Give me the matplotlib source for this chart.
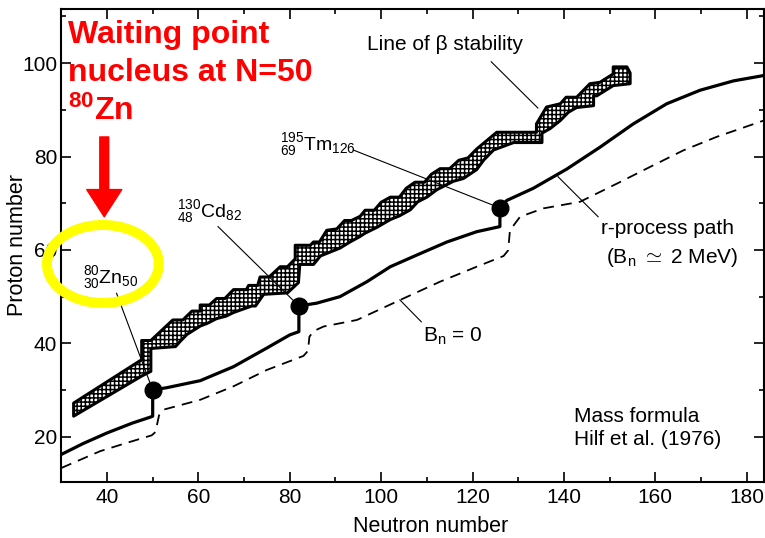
import matplotlib
matplotlib.use('Agg')
import matplotlib.pyplot as plt
from matplotlib import font_manager
from matplotlib.patches import Polygon, Ellipse
from matplotlib.ticker import MultipleLocator

# fonts: a narrow face for the tick numbers if one is installed
installed = {f.name for f in font_manager.fontManager.ttflist}
narrow = 'Liberation Sans Narrow' if 'Liberation Sans Narrow' in installed else 'Liberation Sans'
tick_size = 16.5 if narrow == 'Liberation Sans Narrow' else 15

plt.rcParams['font.family'] = ['Liberation Sans', 'DejaVu Sans']
plt.rcParams['mathtext.fontset'] = 'custom'
plt.rcParams['mathtext.rm'] = 'Liberation Sans'
plt.rcParams['mathtext.it'] = 'Liberation Sans:italic'
plt.rcParams['mathtext.bf'] = 'Liberation Sans:bold'
plt.rcParams['hatch.linewidth'] = 1.1

# line of beta stability, upper and lower edge of the band (N, Z)
band_top_n = [32.7, 47.6, 47.6, 49.6, 54.4, 56.6, 58.6, 60.4, 60.4, 62.4, 64.0, 65.8,
              67.7, 70.5, 71.0, 73.0, 73.5, 75.5, 77.9, 79.5, 81.2, 81.2, 84.5, 85.2,
              86.5, 88.1, 90.3, 92.0, 93.5, 95.4, 96.5, 98.5, 100.0, 102.0, 104.0, 105.5,
              107.4, 109.5, 111.0, 112.9, 115.0, 117.0, 119.0, 120.9, 123.1, 125.3, 134.0, 134.0,
              136.2, 139.2, 140.5, 142.8, 145.7, 147.9, 150.8, 150.8, 153.8, 154.5, 154.5]
band_top_z = [27.2, 36.5, 40.6, 40.6, 45.0, 45.0, 46.9, 46.9, 48.2, 48.2, 49.6, 49.6,
              51.5, 51.5, 52.4, 52.4, 54.2, 54.2, 56.4, 56.4, 58.1, 61.0, 61.0, 61.7,
              61.7, 64.2, 64.5, 66.3, 66.3, 67.2, 68.5, 68.5, 70.2, 71.3, 71.3, 73.2,
              74.5, 74.5, 76.2, 77.4, 77.4, 79.2, 79.7, 81.6, 83.4, 85.2, 85.2, 87.0,
              90.6, 91.3, 92.7, 92.7, 95.6, 95.9, 97.7, 99.2, 99.2, 97.9, 95.9]
band_low_n = [32.7, 47.6, 49.6, 49.6, 55.0, 56.0, 57.5, 60.4, 62.0, 64.0, 66.0, 67.7,
              71.7, 72.5, 74.3, 79.5, 81.9, 82.2, 85.2, 86.7, 91.0, 93.0, 95.4, 96.5,
              99.0, 102.0, 104.0, 106.4, 108.0, 110.0, 112.2, 115.8, 118.0, 120.9, 122.5, 124.6,
              129.0, 135.2, 135.2, 137.0, 139.2, 141.0, 142.8, 146.5, 146.5, 147.2, 150.8, 154.5]
band_low_z = [24.4, 33.0, 34.0, 38.9, 39.3, 40.4, 41.9, 43.7, 44.3, 45.3, 45.8, 46.6,
              48.0, 48.0, 50.5, 50.8, 53.0, 56.9, 56.9, 58.7, 60.4, 61.6, 62.9, 63.6,
              64.8, 66.5, 67.3, 68.6, 70.3, 71.3, 72.9, 74.7, 75.3, 77.2, 79.3, 81.4,
              83.0, 83.0, 85.0, 86.0, 87.7, 89.5, 90.5, 90.9, 93.0, 93.0, 95.2, 95.6]

# waiting-point nuclei at the closed neutron shells
nuc_sym = ['Zn', 'Cd', 'Tm']
nuc_n = [50, 82, 126]
nuc_z = [30, 48, 69]

# r-process path for B_n ~ 2 MeV (jumps up at the closed shells)
path_n = [30, 34.7, 40, 45.5, 49.5, 50, 50,
          53.1, 60.4, 67.7, 75, 80, 82, 82,
          85.9, 91, 96.9, 102, 107.8, 114.4, 120.9, 126, 126,
          127.5, 133.3, 140.6, 147.9, 155.2, 162.5, 169.8, 177.1, 184]
path_z = [16.2, 18.5, 20.8, 22.9, 24.2, 24.4, 30,
          30.5, 32.0, 35.0, 39.0, 41.8, 42.5, 48,
          48.6, 50.0, 53.2, 56.4, 58.9, 61.7, 63.9, 65.0, 69,
          70.6, 73.2, 77.3, 82.0, 87.0, 91.3, 94.2, 96.2, 97.4]

# neutron drip line B_n = 0
drip_n = [30, 38.5, 44.4, 49.8, 50.6, 51.0, 51.4, 52.4, 60.4, 67.7, 75, 83,
          84.0, 84.3, 85.2, 87.4, 94.7, 104.2, 112.9, 120.9, 126.8, 127.8, 128.2, 130.4,
          135.5, 143.5, 151.6, 158.9, 166.1, 173.4, 184]
drip_z = [13.3, 16.9, 18.7, 20.3, 21.0, 22.8, 24.6, 25.8, 27.9, 30.8, 34.3, 37.3,
          38.4, 41.4, 42.6, 43.6, 45.0, 49.3, 53.2, 56.4, 58.7, 59.9, 64.2, 67.1,
          68.9, 70.3, 74.2, 77.8, 81.3, 84.2, 87.8]

fig = plt.figure(figsize=(7.65, 5.38), dpi=100)
ax = fig.add_axes([61.3 / 765, 56 / 538, 702.7 / 765, 473 / 538])
ax.set_xlim(30, 183.8)
ax.set_ylim(10.3, 111.6)

band = list(zip(band_top_n, band_top_z)) + list(zip(band_low_n, band_low_z))[::-1]
ax.add_patch(Polygon(band, closed=True, facecolor='white', edgecolor='black',
                     hatch='++++', lw=2.2, joinstyle='round', zorder=3))

ax.plot(path_n, path_z, color='black', lw=2.3, solid_joinstyle='round', zorder=4)
ax.plot(drip_n, drip_z, color='black', lw=1.3, dashes=(6, 4), zorder=4)

# leader lines from the labels
leaders = [((42.1, 50.7), (nuc_n[0], nuc_z[0])),
           ((64.3, 65.0), (nuc_n[1], nuc_z[1])),
           ((93.9, 81.4), (nuc_n[2], nuc_z[2])),
           ((124.1, 100.3), (134.3, 90.4)),
           ((138.7, 75.7), (147.5, 67.1)),
           ((104.1, 49.3), (108.8, 44.6))]
for (x0, y0), (x1, y1) in leaders:
    ax.plot([x0, x1], [y0, y1], color='black', lw=0.8, zorder=5)

ax.plot(nuc_n, nuc_z, 'o', color='black', ms=12, zorder=6)

# nuclide labels  A/Z Sym N
label_pos = [(34.8, 52.9), (55.3, 67.1), (77.8, 81.4)]
for sym, n, z, (lx, ly) in zip(nuc_sym, nuc_n, nuc_z, label_pos):
    ax.text(lx, ly, r'${}^{%d}_{%d}$%s$_{%d}$' % (n + z, z, sym, n),
            fontsize=14, ha='left', va='baseline', zorder=7)

ax.text(96.9, 103.9, 'Line of β stability', fontsize=15, ha='left', va='center')
ax.text(148.2, 64.5, 'r-process path', fontsize=15, ha='left', va='center')
ax.text(149.3, 58.3, r'(B$_{\rm n}$ $\simeq$ 2 MeV)', fontsize=15, ha='left', va='center')
ax.text(109.1, 41.6, r'B$_{\rm n}$ = 0', fontsize=15, ha='left', va='center')
ax.text(142.2, 24.4, 'Mass formula', fontsize=15, ha='left', va='center')
ax.text(142.2, 19.3, 'Hilf et al. (1976)', fontsize=15, ha='left', va='center')

# red highlight for the N=50 waiting point
red = '#ff0000'
ax.text(31.5, 104.35, 'Waiting point', color=red, fontsize=23, fontweight='bold',
        ha='left', va='baseline', zorder=8)
ax.text(31.5, 96.2, 'nucleus at N=50', color=red, fontsize=23, fontweight='bold',
        ha='left', va='baseline', zorder=8)
ax.text(31.5, 87.9, r'$^{\mathbf{80}}$Zn', color=red, fontsize=23, fontweight='bold',
        ha='left', va='baseline', zorder=8)
ax.annotate('', xy=(39.4, 67.1), xytext=(39.4, 84.2),
            arrowprops=dict(arrowstyle='simple,head_length=0.49,head_width=0.63,tail_width=0.16',
                            mutation_scale=40, color=red, shrinkA=0, shrinkB=0), zorder=8)
ax.add_patch(Ellipse((39.1, 57.0), 24.5, 16.7, fill=False, edgecolor='#ffff00',
                     lw=7.2, clip_on=False, zorder=9))

# axes frame and ticks
for s in ax.spines.values():
    s.set_linewidth(1.5)
ax.xaxis.set_major_locator(MultipleLocator(20))
ax.xaxis.set_minor_locator(MultipleLocator(10))
ax.yaxis.set_major_locator(MultipleLocator(20))
ax.yaxis.set_minor_locator(MultipleLocator(10))
ax.tick_params(which='both', direction='in', top=True, right=True, width=1.2)
ax.tick_params(which='major', length=7.2)
ax.tick_params(which='minor', length=3.6)
ax.tick_params(axis='x', pad=4)
ax.tick_params(axis='y', pad=3)
for lab in ax.get_xticklabels() + ax.get_yticklabels():
    lab.set_family(narrow)
    lab.set_fontsize(tick_size)

fig.text(18 / 765, 1 - 245 / 538, 'Proton number', rotation=90, fontsize=15.5,
         ha='center', va='center')
fig.text(431 / 765, 1 - 527 / 538, 'Neutron number', fontsize=15.5,
         ha='center', va='center')

fig.savefig('out.png', dpi=100)
